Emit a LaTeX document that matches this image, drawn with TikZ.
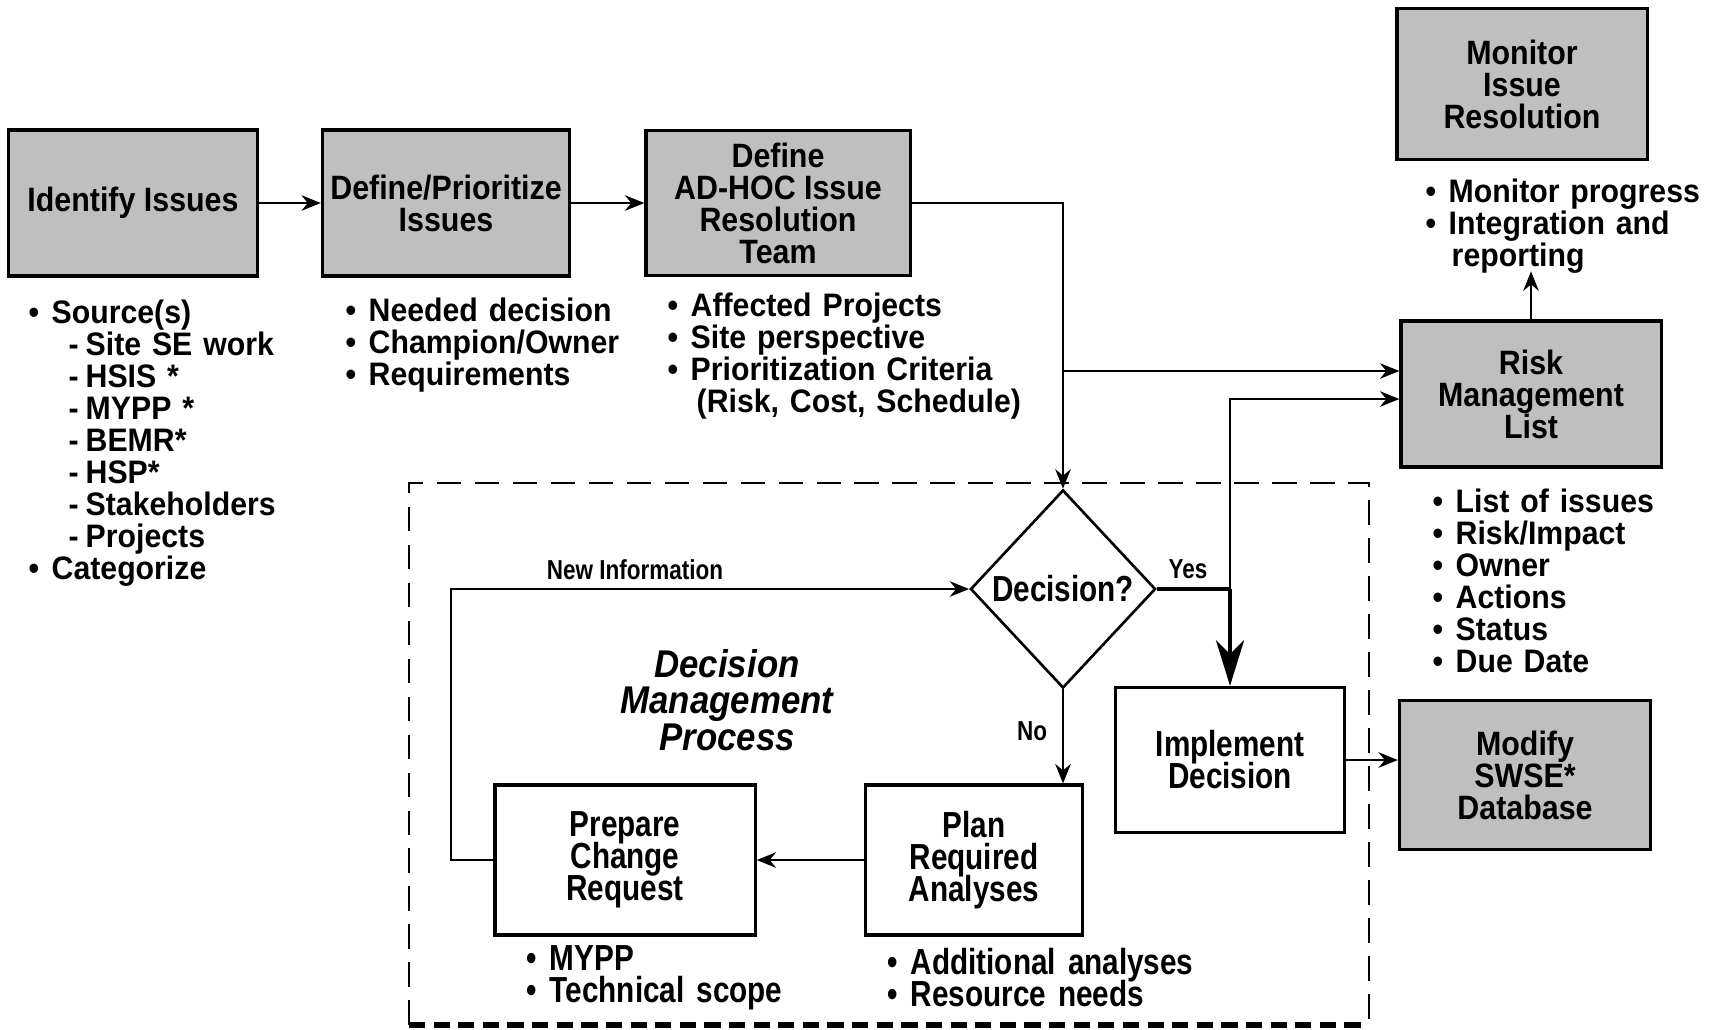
\documentclass[tikz,border=0pt]{standalone}
\usepackage{fontspec}
\setmainfont{Liberation Sans}
\newfontfamily\boxf[FakeStretch=0.9]{Liberation Sans}
\newfontfamily\listf[FakeStretch=0.93]{Liberation Sans}
\newfontfamily\condf[FakeStretch=0.82]{Liberation Sans}
\newfontfamily\dmpf[FakeStretch=0.9]{Liberation Sans}
\usetikzlibrary{arrows.meta,shapes.geometric}
\setlength{\lineskiplimit}{-20pt}
\setlength{\lineskip}{0pt}

\newcommand\boxfont{\boxf\bfseries\fontsize{9.6}{9.1}\selectfont\lineskiplimit=-20pt}
\newcommand\listfont{\listf\bfseries\fontsize{9.25}{9.1}\selectfont\lineskiplimit=-20pt}
\newcommand\condfont{\condf\bfseries\fontsize{10.3}{9.1}\selectfont\lineskiplimit=-20pt}
\newcommand\smallcond{\condf\bfseries\fontsize{7.8}{9}\selectfont}
\newcommand\dmpfont{\dmpf\bfseries\itshape\fontsize{11}{10.4}\selectfont\lineskiplimit=-20pt}
\newcommand\lbul{\makebox[0.23cm][l]{\textbullet}}
\newcommand\lsub{\makebox[0.23cm][l]{}\makebox[0.34cm][l]{\hspace{0.17cm}-}}
\newcommand\lnone{\makebox[0.23cm][l]{}}

\tikzset{
  shaded/.style={draw, line width=0.9pt, fill=black!25, font=\boxfont, align=center, inner sep=0pt},
  plainbox/.style={draw, line width=0.9pt, fill=white, font=\condfont, align=center, inner sep=0pt},
  diam/.style={draw, shape=diamond, line width=0.75pt, fill=white, inner sep=0pt,
    minimum width=1.85cm, minimum height=1.98cm, font=\condfont},
  conn/.style={line width=0.65pt},
  heavyconn/.style={line width=1.1pt},
  arr/.style={conn, -{Stealth[length=5.5pt,width=4.4pt]}},
  bigarr/.style={heavyconn, -{Stealth[length=13pt,width=8pt,inset=4pt]}},
  lst/.style={anchor=base west, inner sep=0pt, align=left, font=\listfont},
  clst/.style={anchor=base west, inner sep=0pt, align=left, font=\condfont},
  lbl/.style={inner sep=0pt, font=\smallcond},
  dmp/.style={inner sep=0pt, align=center, font=\dmpfont},
  dashframe/.style={line width=0.7pt, dash pattern=on 7pt off 3.8pt},
  dashbottom/.style={line width=1.5pt, dash pattern=on 4.6pt off 2.4pt},
}

\begin{document}
\begin{tikzpicture}[x=0.01cm, y=-0.01cm]
\useasboundingbox (0,0) rectangle (1710,1029);
\fill[white] (0,0) rectangle (1710,1029);

% dashed frame of the decision management process
\draw[dashframe] (409,1025) -- (409,483) -- (1369,483) -- (1369,1025);
\draw[dashbottom] (409,1025) -- (1369,1025);

% shaded process boxes
\node[shaded, minimum width=2.49cm, minimum height=1.46cm] (ident) at (133,203) {Identify Issues};
\node[shaded, minimum width=2.47cm, minimum height=1.46cm] (defp) at (446,203) {Define/Prioritize\\Issues};
\node[shaded, minimum width=2.64cm, minimum height=1.45cm] (adhoc) at (778,203) {Define\\AD-HOC Issue\\Resolution\\Team};
\node[shaded, minimum width=2.50cm, minimum height=1.51cm] (mon) at (1522,84) {Monitor\\Issue\\Resolution};
\node[shaded, minimum width=2.60cm, minimum height=1.46cm] (risk) at (1531,394) {Risk\\Management\\List};
\node[shaded, minimum width=2.51cm, minimum height=1.49cm] (mod) at (1525,775) {Modify\\SWSE*\\Database};

% decision process
\node[diam] (dia) at (1063,589) {Decision?};
\node[plainbox, minimum width=2.29cm, minimum height=1.45cm] (impl) at (1230,760) {Implement\\Decision};
\node[plainbox, minimum width=2.17cm, minimum height=1.50cm] (plan) at (974,860) {Plan\\Required\\Analyses};
\node[plainbox, minimum width=2.60cm, minimum height=1.50cm] (prep) at (625,860) {Prepare\\Change\\Request};

% connectors
\draw[arr] (ident.east) -- (defp.west);
\draw[arr] (defp.east) -- (adhoc.west);
\draw[arr] (adhoc.east) -| (dia.north);
\draw[arr] ([yshift=0.23cm]risk.west -| dia.north) -- ([yshift=0.23cm]risk.west);
\draw[arr] (risk.north) -- ++(0,-48);
\draw[heavyconn] (dia.east) -- (dia.east -| impl.north) coordinate (yj);
\draw[bigarr] (yj) -- (impl.north);
\draw[arr] (yj) |- ([yshift=-0.05cm]risk.west);
\draw[arr] (dia.south) -- (dia.south |- plan.north);
\draw[arr] (plan.west) -- (prep.east);
\draw[arr] (prep.west) -- ++(-42,0) |- (dia.west);
\draw[arr] (impl.east) -- (impl.east -| mod.west);

% labels
\node[lbl] (newinfo) at (635,570) {New Information};
\node[lbl] (yes) at (1188,569) {Yes};
\node[lbl] (no) at (1032,731) {No};
\node[dmp] (dmpt) at (727,700) {Decision\\Management\\Process};

% bullet lists
\node[lst, text width=3cm] (l1) at (28,323) {\lbul Source(s)\\ \lsub Site SE work\\ \lsub HSIS *\\ \lsub MYPP *\\ \lsub BEMR*\\ \lsub HSP*\\ \lsub Stakeholders\\ \lsub Projects\\ \lbul Categorize};
\node[lst, text width=3cm] (l2) at (345,321) {\lbul Needed decision\\ \lbul Champion/Owner\\ \lbul Requirements};
\node[lst, text width=3.6cm] (l3) at (667,316) {\lbul Affected Projects\\ \lbul Site perspective\\ \lbul Prioritization Criteria\\ \lnone\hspace{0.06cm}(Risk, Cost, Schedule)};
\node[lst, text width=2.85cm] (l4) at (1425,202) {\lbul Monitor progress\\ \lbul Integration and\\ \lnone\hspace{0.03cm}reporting};
\node[lst, text width=2.6cm] (l5) at (1432,512) {\lbul List of issues\\ \lbul Risk/Impact\\ \lbul Owner\\ \lbul Actions\\ \lbul Status\\ \lbul Due Date};
\node[clst, text width=2.9cm] (l6) at (526,970) {\lbul MYPP\\ \lbul Technical scope};
\node[clst, text width=3.4cm] (l7) at (887,974) {\lbul Additional analyses\\ \lbul Resource needs};
\end{tikzpicture}
\end{document}
